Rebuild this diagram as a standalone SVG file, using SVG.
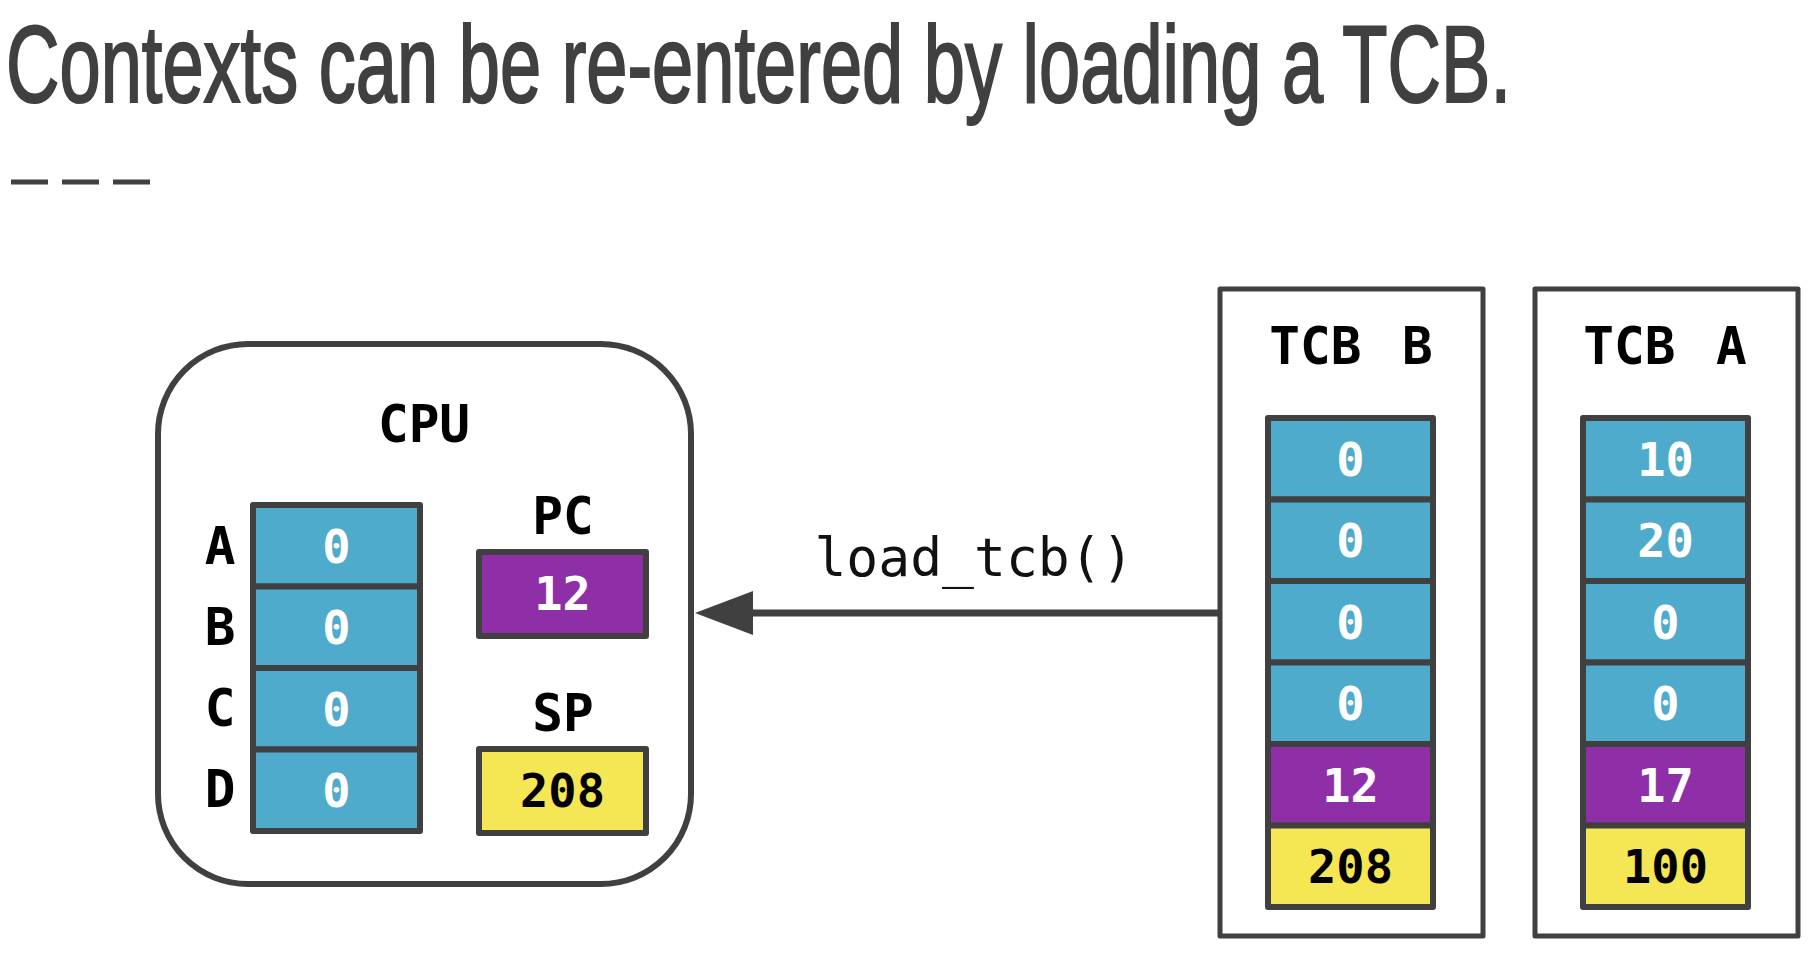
<svg xmlns="http://www.w3.org/2000/svg" width="1816" height="954" viewBox="0 0 1816 954">
<style>
.title{font-family:"Liberation Sans Narrow","Liberation Sans",sans-serif;font-size:110px;fill:#404040;stroke:#404040;stroke-width:2.2}
.lbl{font-family:"DejaVu Sans Mono",monospace;font-weight:bold;font-size:51px;fill:#000;text-anchor:middle}
.val{font-family:"DejaVu Sans Mono",monospace;font-weight:bold;font-size:47px;text-anchor:middle}
.w{fill:#fff}
.k{fill:#000}
.code{font-family:"DejaVu Sans Mono",monospace;font-size:53px;fill:#111;text-anchor:middle}
.cell{stroke:#404040;stroke-width:6;stroke-linejoin:round}
.blue{fill:#4fabcb}
.purple{fill:#8e2fa8}
.yellow{fill:#f5e654}
.box{fill:#fff;stroke:#404040;stroke-width:5;stroke-linejoin:round}
</style>
<rect width="1816" height="954" fill="#fff"/>
<text class="title" x="6" y="102" textLength="1505" lengthAdjust="spacingAndGlyphs">Contexts can be re-entered by loading a TCB.</text>
<g stroke="#404040" stroke-width="5">
<line x1="11" y1="182" x2="48" y2="182"/>
<line x1="62" y1="182" x2="99" y2="182"/>
<line x1="113" y1="182" x2="150" y2="182"/>
</g>
<g id="cpu">
<rect x="158" y="344" width="533" height="540" rx="90" ry="90" fill="#fff" stroke="#404040" stroke-width="6"/>
<text class="lbl" x="424" y="442">CPU</text>
<text class="lbl" x="220" y="564">A</text>
<text class="lbl" x="220" y="645">B</text>
<text class="lbl" x="220" y="726">C</text>
<text class="lbl" x="220" y="807">D</text>
<rect class="cell blue" x="253" y="505" width="167" height="81.5"/>
<rect class="cell blue" x="253" y="586.5" width="167" height="81.5"/>
<rect class="cell blue" x="253" y="668" width="167" height="81.5"/>
<rect class="cell blue" x="253" y="749.5" width="167" height="81.5"/>
<text class="val w" x="336.5" y="563">0</text>
<text class="val w" x="336.5" y="644">0</text>
<text class="val w" x="336.5" y="726">0</text>
<text class="val w" x="336.5" y="807">0</text>
<text class="lbl" x="563" y="534">PC</text>
<rect class="cell purple" x="479" y="552" width="167" height="84"/>
<text class="val w" x="562.5" y="610">12</text>
<text class="lbl" x="563" y="731">SP</text>
<rect class="cell yellow" x="479" y="749" width="167" height="84"/>
<text class="val k" x="562.5" y="807">208</text>
</g>
<g id="tcb_b">
<rect class="box" x="1220" y="289" width="263" height="647"/>
<text class="lbl" x="1351" y="364" word-spacing="10">TCB B</text>
<rect class="cell blue" x="1268" y="418" width="165" height="81.5"/>
<rect class="cell blue" x="1268" y="499.5" width="165" height="81.5"/>
<rect class="cell blue" x="1268" y="581" width="165" height="81.5"/>
<rect class="cell blue" x="1268" y="662.5" width="165" height="81.5"/>
<rect class="cell purple" x="1268" y="744" width="165" height="81.5"/>
<rect class="cell yellow" x="1268" y="825.5" width="165" height="81.5"/>
<text class="val w" x="1350.5" y="476">0</text>
<text class="val w" x="1350.5" y="557">0</text>
<text class="val w" x="1350.5" y="639">0</text>
<text class="val w" x="1350.5" y="720">0</text>
<text class="val w" x="1350.5" y="802">12</text>
<text class="val k" x="1350.5" y="883">208</text>
</g>
<g id="tcb_a">
<rect class="box" x="1535" y="289" width="263" height="647"/>
<text class="lbl" x="1665" y="364" word-spacing="10">TCB A</text>
<rect class="cell blue" x="1583" y="418" width="165" height="81.5"/>
<rect class="cell blue" x="1583" y="499.5" width="165" height="81.5"/>
<rect class="cell blue" x="1583" y="581" width="165" height="81.5"/>
<rect class="cell blue" x="1583" y="662.5" width="165" height="81.5"/>
<rect class="cell purple" x="1583" y="744" width="165" height="81.5"/>
<rect class="cell yellow" x="1583" y="825.5" width="165" height="81.5"/>
<text class="val w" x="1665.5" y="476">10</text>
<text class="val w" x="1665.5" y="557">20</text>
<text class="val w" x="1665.5" y="639">0</text>
<text class="val w" x="1665.5" y="720">0</text>
<text class="val w" x="1665.5" y="802">17</text>
<text class="val k" x="1665.5" y="883">100</text>
</g>
<g id="connectors">
<line x1="1220" y1="613" x2="750" y2="613" stroke="#404040" stroke-width="7"/>
<polygon points="695,613 753,591 753,635" fill="#404040"/>
<text class="code" x="974" y="576">load_tcb()</text>
</g>
</svg>
